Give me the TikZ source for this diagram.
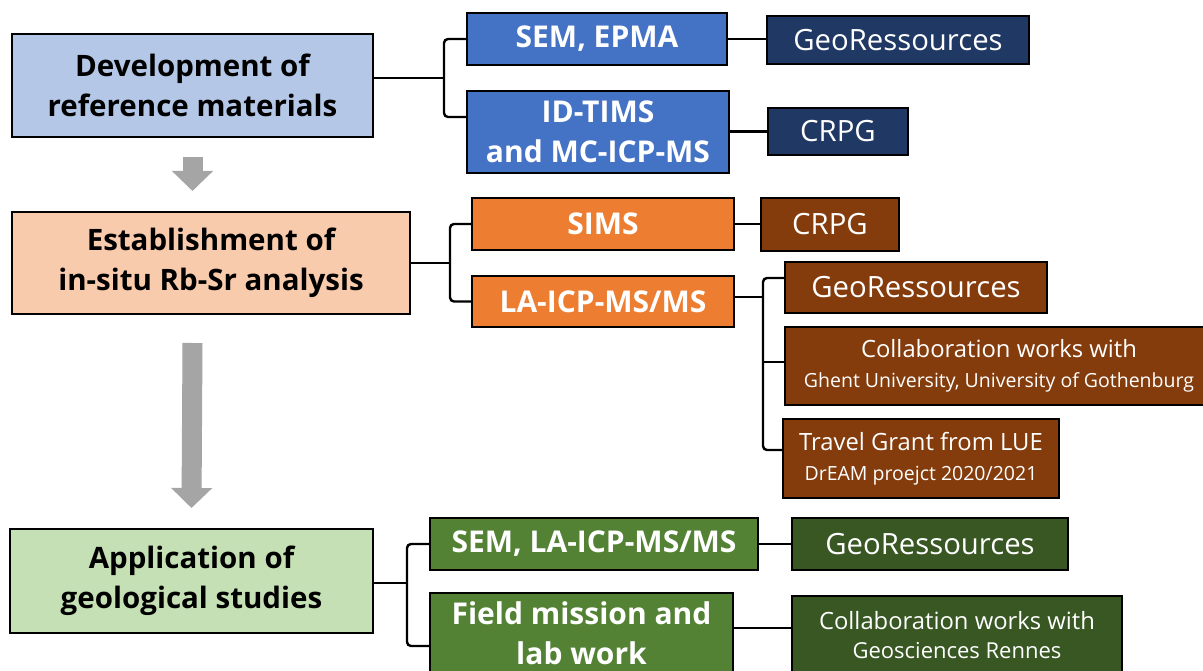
\documentclass[tikz,border=0pt]{standalone}
\usepackage{fontspec}
\setmainfont{Open Sans}
\usetikzlibrary{positioning,arrows.meta,calc}

\definecolor{devfill}{HTML}{B4C7E7}
\definecolor{estfill}{HTML}{F8CBAD}
\definecolor{appfill}{HTML}{C5E0B4}
\definecolor{bluemid}{HTML}{4472C4}
\definecolor{bluedark}{HTML}{203864}
\definecolor{orangemid}{HTML}{ED7D31}
\definecolor{browndark}{HTML}{843C0C}
\definecolor{greenmid}{HTML}{548235}
\definecolor{greendark}{HTML}{385723}
\definecolor{arrowgray}{HTML}{A5A5A5}

\newcommand{\smallline}[1]{{\fontsize{19.5}{29}\selectfont #1}}

\begin{document}
\begin{tikzpicture}[x=1pt,y=-1pt,
  every node/.style={draw=black,line width=2pt,align=center,inner sep=0pt},
  topicbox/.style={font=\bfseries\fontsize{29.5}{40}\selectfont,text=black},
  methodbox/.style={font=\bfseries\fontsize{30}{40}\selectfont,text=white},
  labbox/.style={font=\fontsize{29.3}{36}\selectfont,text=white},
  notebox/.style={font=\fontsize{23.8}{29}\selectfont,text=white},
  link/.style={line width=2.4pt,rounded corners=4pt},
  flow/.style={draw=arrowgray,line width=20pt,
    -{Triangle[width=40pt,length=20pt]}}]
\useasboundingbox (0,0) rectangle (1203,671);

% left column
\node[topicbox,fill=devfill,minimum width=361pt,minimum height=103pt] (dev) at (192.5,85.5) {Development of\\reference materials};
\node[topicbox,fill=estfill,minimum width=398pt,minimum height=102pt] (est) at (211,263) {Establishment of\\in-situ Rb-Sr analysis};
\node[topicbox,fill=appfill,minimum width=363pt,minimum height=104pt] (app) at (191.5,581) {Application of\\geological studies};

% reference materials
\node[methodbox,fill=bluemid,minimum width=260pt,minimum height=52pt] (sem) at (597,39) {SEM, EPMA};
\node[methodbox,fill=bluemid,minimum width=262pt,minimum height=82pt] (idtims) at (598,132) {ID-TIMS\\and MC-ICP-MS};
\node[labbox,fill=bluedark,minimum width=262pt,minimum height=48pt] (georesB) at (898,40) {GeoRessources};
\node[labbox,fill=bluedark,minimum width=140pt,minimum height=47pt] (crpgB) at (838,131.5) {CRPG};

% in-situ analysis
\node[methodbox,fill=orangemid,minimum width=262pt,minimum height=52pt] (sims) at (603,224) {SIMS};
\node[methodbox,fill=orangemid,minimum width=262pt,minimum height=51pt] (laicp) at (603,301.5) {LA-ICP-MS/MS};
\node[labbox,fill=browndark,minimum width=138pt,minimum height=53pt] (crpgO) at (830,224.5) {CRPG};
\node[labbox,fill=browndark,minimum width=262pt,minimum height=51pt] (georesO) at (916,287.5) {GeoRessources};
\node[notebox,fill=browndark,minimum width=428pt,minimum height=78pt] (collabO) at (999,366) {Collaboration works with\\[1pt]\smallline{Ghent University, University of Gothenburg}};
\node[notebox,fill=browndark,minimum width=276pt,minimum height=79pt] (travel) at (921,458.5) {Travel Grant from LUE\\[1pt]\smallline{DrEAM proejct 2020/2021}};

% geological studies
\node[methodbox,fill=greenmid,minimum width=328pt,minimum height=52pt] (semG) at (594,544) {SEM, LA-ICP-MS/MS};
\node[methodbox,fill=greenmid,minimum width=303pt,minimum height=80pt] (field) at (581.5,633) {Field mission and\\lab work};
\node[labbox,fill=greendark,minimum width=276pt,minimum height=52pt] (georesG) at (930,544) {GeoRessources};
\node[notebox,fill=greendark,minimum width=330pt,minimum height=78pt] (collabG) at (957,635) {Collaboration works with\\{\fontsize{22}{29}\selectfont Geosciences Rennes}};

% junctions
\coordinate (devj) at (444,78);
\coordinate (idin) at (467,117);
\coordinate (estj) at (450,263);
\coordinate (laj) at (763,297);
\coordinate (gOin) at (785,278);
\coordinate (cOin) at (785,362);
\coordinate (tin) at (783,450);
\coordinate (appj) at (407,583);
\coordinate (fin) at (430,646);
\coordinate (fout) at (733,628);

% connectors
\draw[link] (dev.east |- devj) -- (devj);
\draw[link] (sem.west) -| (devj) |- (idin);
\draw[link] (sem.east) -- (georesB.west |- sem.east);
\draw[link] (idtims.east |- crpgB.west) -- (crpgB.west);
\draw[link] (est.east) -- (estj);
\draw[link] (sims.west) -| (estj) |- (laicp.west);
\draw[link] (sims.east) -- (crpgO.west |- sims.east);
\draw[link] (laicp.east |- laj) -- (laj);
\draw[link] (gOin) -| (laj) |- (tin);
\draw[link] (laj |- cOin) -- (cOin);
\draw[link] (app.east |- appj) -- (appj);
\draw[link] (semG.west) -| (appj) |- (fin);
\draw[link] (semG.east) -- (georesG.west |- semG.east);
\draw[link] (fout) -- (collabG.west |- fout);

% flow arrows
\draw[flow] ($(dev.south)+(0,19)$) -- ($(dev.south |- est.north)+(0,-20)$);
\draw[flow] ($(est.south -| dev.south)+(0,28)$) -- ($(app.north)+(0,-20)$);
\end{tikzpicture}
\end{document}
